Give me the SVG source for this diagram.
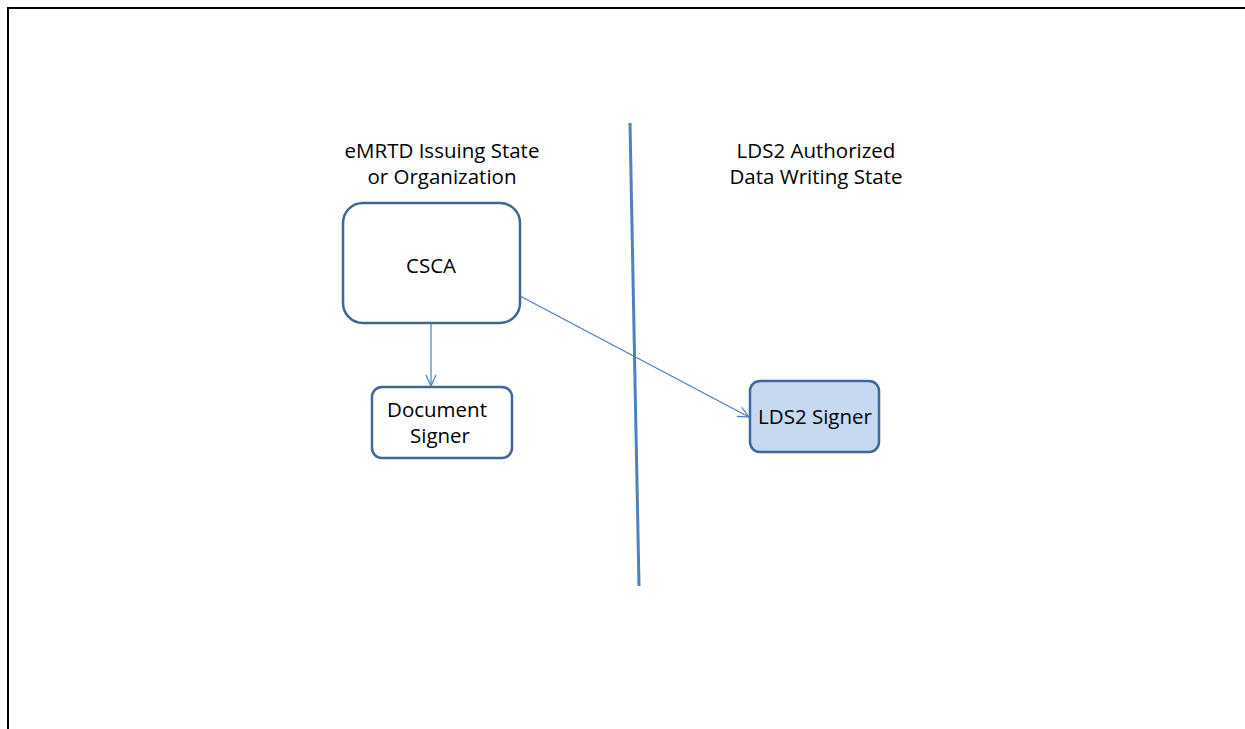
<svg xmlns="http://www.w3.org/2000/svg" width="1245" height="729" viewBox="0 0 1245 729">
  <style>
    text { font-family: "Open Sans", "Liberation Sans", sans-serif; font-size: 20.5px; fill: #000; text-anchor: middle; }
    .node { stroke: #41679a; stroke-width: 2.5; }
    .conn { stroke: #4a7ebb; stroke-width: 1.2; fill: none; }
  </style>
  <defs>
    <marker id="open-arrow" markerWidth="14" markerHeight="14" refX="12" refY="6" orient="auto" markerUnits="userSpaceOnUse">
      <path d="M1,1 L12,6 L1,11" fill="none" stroke="#4a7ebb" stroke-width="1.2"/>
    </marker>
  </defs>
  <rect width="1245" height="729" fill="#fff"/>
  <!-- page frame -->
  <path d="M8,729 L8,8 L1245,8" fill="none" stroke="#000" stroke-width="2"/>
  <!-- boundary between the two states -->
  <line x1="630" y1="123" x2="639" y2="586" stroke="#4f81bd" stroke-width="3"/>
  <g id="label-issuing">
    <text x="442" y="158">eMRTD Issuing State</text>
    <text x="442" y="184">or Organization</text>
  </g>
  <g id="label-writing">
    <text x="816" y="158">LDS2 Authorized</text>
    <text x="816" y="184">Data Writing State</text>
  </g>
  <g id="csca">
    <rect class="node" x="343" y="203" width="177" height="120" rx="20" fill="#fff"/>
    <text x="431" y="273">CSCA</text>
  </g>
  <g id="document-signer">
    <rect class="node" x="372" y="387" width="140" height="71" rx="10" fill="#fff"/>
    <text x="437" y="417">Document</text>
    <text x="440" y="443">Signer</text>
  </g>
  <g id="lds2-signer">
    <rect class="node" x="750" y="381" width="129" height="71" rx="10" fill="#c6d9f1"/>
    <text x="815" y="424">LDS2 Signer</text>
  </g>
  <g id="connectors">
    <line class="conn" x1="431" y1="323" x2="431" y2="386" marker-end="url(#open-arrow)"/>
    <line class="conn" x1="520" y1="296" x2="749" y2="417" marker-end="url(#open-arrow)"/>
  </g>
</svg>
